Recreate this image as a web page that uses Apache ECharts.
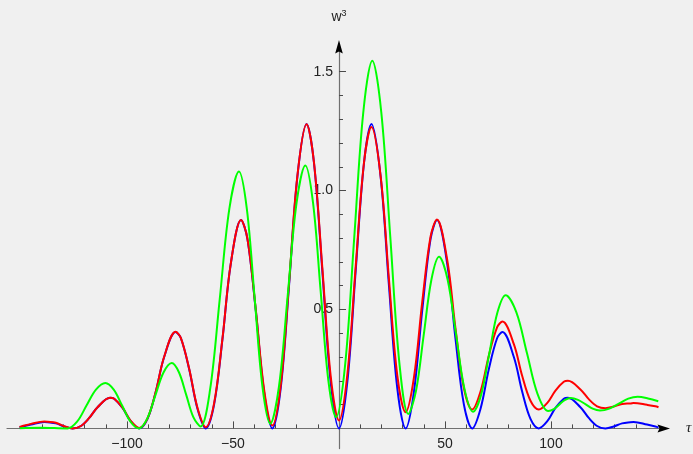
<!DOCTYPE html>
<html>
<head>
<meta charset="utf-8">
<script src="https://cdn.jsdelivr.net/npm/echarts@6/dist/echarts.min.js"></script>
<style>
  html, body { margin: 0; padding: 0; background: #f0f0f0; }
  #chart { width: 693px; height: 454px; }
</style>
</head>
<body>
<div id="chart"></div>
<script>
// τ positions shared by the blue and red curves (eighth-period spacing, peaks placed at their crests)
const tauGrid = [-150.7, -149.23, -145.30, -139.0, -137.44, -133.52, -129.59, -125.66, -121.74, -117.81,
  -113.88, -108.0, -106.03, -102.10, -98.17, -94.25, -90.32, -86.39, -82.47, -77.1,
  -74.61, -70.69, -66.76, -62.83, -58.90, -54.98, -51.05, -46.2, -43.20, -39.27,
  -35.34, -31.42, -27.49, -23.56, -19.63, -15.3, -11.78, -7.85, -3.93, 0,
  3.93, 7.85, 11.78, 15.3, 19.63, 23.56, 27.49, 31.42, 35.34, 39.27,
  43.20, 46.2, 51.05, 54.98, 58.90, 62.83, 66.76, 70.69, 74.61, 77.1,
  82.47, 86.39, 90.32, 94.25, 98.17, 102.10, 106.03, 108.0, 113.88, 117.81,
  121.74, 125.66, 129.59, 133.52, 137.44, 139.0, 145.30, 149.23, 150.7];

const blueW3 = [0.004,
  0.008, 0.016, 0.027, 0.026, 0.021, 0.008, 0, 0.010, 0.044, 0.089,
  0.129, 0.125, 0.086, 0.029, 0, 0.040, 0.155, 0.300, 0.405, 0.380,
  0.250, 0.083, 0, 0.101, 0.374, 0.692, 0.876, 0.797, 0.497, 0.154,
  0, 0.169, 0.601, 1.059, 1.280, 1.115, 0.660, 0.195,
  0,
  0.195, 0.660, 1.115, 1.280, 1.059, 0.601, 0.169, 0, 0.154, 0.497,
  0.797, 0.876, 0.692, 0.374, 0.101, 0, 0.083, 0.250, 0.380, 0.405,
  0.300, 0.155, 0.040, 0, 0.029, 0.086, 0.125, 0.129, 0.089, 0.044,
  0.010, 0, 0.008, 0.021, 0.026, 0.027, 0.016, 0.008,
  0.004];

const redW3 = [0.006,
  0.010, 0.019, 0.029, 0.028, 0.024, 0.009, 0, 0.010, 0.044, 0.089,
  0.129, 0.125, 0.087, 0.031, 0.002, 0.042, 0.156, 0.301, 0.406, 0.381,
  0.252, 0.087, 0.005, 0.106, 0.377, 0.693, 0.876, 0.798, 0.502, 0.164,
  0.012, 0.182, 0.610, 1.062, 1.279, 1.117, 0.674, 0.221,
  0.033,
  0.226, 0.678, 1.117, 1.267, 1.062, 0.628, 0.223, 0.068, 0.213, 0.532,
  0.807, 0.878, 0.708, 0.418, 0.170, 0.079, 0.155, 0.307, 0.426, 0.449,
  0.354, 0.221, 0.116, 0.079, 0.106, 0.159, 0.196, 0.200, 0.164, 0.123,
  0.093, 0.085, 0.092, 0.103, 0.105, 0.107, 0.099, 0.093,
  0.089];

// the green curve is sampled on its own τ positions
const greenTau = [-150.6, -141.0, -128.0, -123.55, -119.1, -114.65, -110.2, -106.25, -102.3, -98.35,
  -94.4, -90.53, -86.65, -82.78, -78.9, -75.5, -72.1, -68.7, -65.3, -60.78,
  -56.25, -51.73, -47.2, -43.5, -39.8, -36.1, -32.4, -28.28, -24.15, -20.03,
  -15.9, -12.28, -8.65, -5.03, -1.4, 2.88, 7.15, 11.43, 15.7, 19.95,
  24.2, 28.45, 32.7, 36.33, 39.95, 43.58, 47.2, 51.2, 55.2, 59.2,
  63.2, 67.05, 70.9, 74.75, 78.6, 83.63, 88.65, 93.68, 98.7, 101.35,
  104.0, 106.65, 109.3, 112.75, 116.2, 119.65, 123.1, 127.55, 132.0, 136.45,
  140.9, 145.75, 150.6];

const greenW3 = [0.001, 0.003, 0.000, 0.028, 0.096, 0.163, 0.191, 0.163, 0.096, 0.028,
  0.000, 0.040, 0.138, 0.235, 0.275, 0.236, 0.142, 0.047, 0.008, 0.165,
  0.544, 0.923, 1.080, 0.925, 0.550, 0.175, 0.020, 0.179, 0.563, 0.947,
  1.106, 0.951, 0.577, 0.202, 0.047, 0.266, 0.797, 1.327, 1.546, 1.329,
  0.804, 0.278, 0.061, 0.158, 0.392, 0.625, 0.722, 0.627, 0.396, 0.165,
  0.070, 0.142, 0.315, 0.488, 0.560, 0.489, 0.317, 0.144, 0.073, 0.081,
  0.101, 0.120, 0.128, 0.120, 0.102, 0.083, 0.075, 0.083, 0.104, 0.125,
  0.133, 0.126, 0.114];

// axis ticks
const xMinorTicks = [-140, -130, -120, -110, -90, -80, -70, -60, -40, -30, -20, -10,
  10, 20, 30, 40, 60, 70, 80, 90, 110, 120, 130, 140];
const xMajorTicks = [-100, -50, 50, 100];
const yMinorTicks = [0.1, 0.2, 0.3, 0.4, 0.6, 0.7, 0.8, 0.9, 1.1, 1.2, 1.3, 1.4];
const yMajorTicks = [0.5, 1.0, 1.5];

const X_MIN = -156.6, X_MAX = 153.3, Y_MIN = -0.085, Y_MAX = 1.6;

const pairs = (xs, ys) => xs.map((x, i) => [x, ys[i]]);

const axisColor = '#707070';
const tickColor = '#4a4a4a';
const labelFont = { fontFamily: 'Liberation Sans', fontSize: 14, color: '#222' };

const chart = echarts.init(document.getElementById('chart'), null, { renderer: 'canvas' });

const curve = (name, color, data) => ({
  name, type: 'line', data, xAxisIndex: 0, yAxisIndex: 0,
  showSymbol: false, smooth: 0.35, silent: true,
  lineStyle: { color, width: 2 }, itemStyle: { color }
});

chart.setOption({
  animation: false,
  backgroundColor: '#f0f0f0',
  grid: { left: 7, right: 29, top: 47.9, bottom: 5.4, containLabel: false, outerBoundsMode: 'none' },
  xAxis: [
    {
      type: 'value', min: X_MIN, max: X_MAX, position: 'bottom',
      axisLine: { show: true, onZero: true, onZeroAxisIndex: 0, lineStyle: { color: axisColor, width: 1.2 } },
      axisTick: { show: true, inside: true, length: 4, customValues: xMinorTicks, lineStyle: { color: tickColor } },
      axisLabel: { show: false },
      splitLine: { show: false },
      name: 'τ', nameLocation: 'end', nameGap: 22,
      nameTextStyle: { fontFamily: 'Liberation Serif', fontStyle: 'italic', fontSize: 15, color: '#222', verticalAlign: 'middle' }
    },
    {
      // major ticks and labels; shifted onto the τ axis below
      type: 'value', min: X_MIN, max: X_MAX, position: 'bottom', offset: 0,
      axisLine: { show: false, onZero: false },
      axisTick: { show: true, inside: true, length: 7, customValues: xMajorTicks, lineStyle: { color: tickColor } },
      axisLabel: {
        show: true, customValues: xMajorTicks, margin: 9, ...labelFont,
        formatter: v => (v < 0 ? '\u2212' + Math.abs(v) : String(v))
      },
      splitLine: { show: false }
    }
  ],
  yAxis: [
    {
      type: 'value', min: Y_MIN, max: Y_MAX, position: 'left',
      axisLine: { show: true, onZero: true, onZeroAxisIndex: 0, lineStyle: { color: axisColor, width: 1.2 } },
      axisTick: { show: true, inside: true, length: 4, customValues: yMinorTicks, lineStyle: { color: tickColor } },
      axisLabel: { show: false },
      splitLine: { show: false }
    },
    {
      // major ticks, labels and name; shifted onto the w³ axis below
      type: 'value', min: Y_MIN, max: Y_MAX, position: 'left', offset: 0,
      axisLine: { show: false, onZero: false },
      axisTick: { show: true, inside: true, length: 7, customValues: yMajorTicks, lineStyle: { color: tickColor } },
      axisLabel: { show: true, customValues: yMajorTicks, margin: 6, ...labelFont, formatter: v => v.toFixed(1) },
      splitLine: { show: false },
      name: '{w|w}{s|3}', nameLocation: 'end', nameGap: 24,
      nameTextStyle: {
        align: 'center', color: '#222',
        rich: {
          w: { fontFamily: 'Liberation Sans', fontSize: 14, color: '#222', verticalAlign: 'bottom' },
          s: { fontFamily: 'Liberation Sans', fontSize: 9, color: '#222', verticalAlign: 'top', padding: [0, 0, 6, 0] }
        }
      }
    }
  ],
  series: [
    curve('blue', '#0000ff', pairs(tauGrid, blueW3)),
    curve('red', '#ff0000', pairs(tauGrid, redW3)),
    curve('green', '#00ff00', pairs(greenTau, greenW3))
  ]
});

// place the major-tick axes on the zero lines and add arrowheads
const toPx = p => chart.convertToPixel({ xAxisIndex: 0, yAxisIndex: 0 }, p);
const origin = toPx([0, 0]);
const yEnd = toPx([0, Y_MAX]);
const xEnd = toPx([X_MAX, 0]);
const leftEdge = toPx([X_MIN, 0])[0];
const bottomEdge = toPx([0, Y_MIN])[1];

chart.setOption({
  xAxis: [{}, { offset: -(bottomEdge - origin[1]) }],
  yAxis: [{}, { offset: -(origin[0] - leftEdge) }],
  graphic: [
    {
      type: 'polygon', silent: true, z: 10,
      shape: { points: [[origin[0], yEnd[1] - 8], [origin[0] - 3.8, yEnd[1] + 5.5], [origin[0], yEnd[1] + 3.5], [origin[0] + 3.8, yEnd[1] + 5.5]] },
      style: { fill: '#000' }
    },
    {
      type: 'polygon', silent: true, z: 10,
      shape: { points: [[xEnd[0] + 6, origin[1]], [xEnd[0] - 6.5, origin[1] - 4], [xEnd[0] - 4.5, origin[1]], [xEnd[0] - 6.5, origin[1] + 4]] },
      style: { fill: '#000' }
    }
  ]
});
</script>
</body>
</html>
